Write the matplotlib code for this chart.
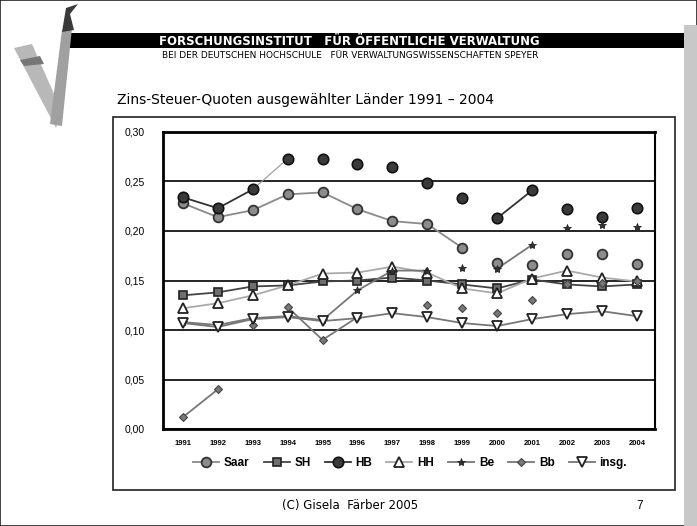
import matplotlib.pyplot as plt
import matplotlib.patches as mpatches
import numpy as np

years = ['1991', '1992', '1993', '1994', '1995', '1996', '1997',
         '1998', '1999', '2000', '2001', '2002', '2003', '2004']

saar = [0.228, 0.214, 0.221, 0.237, 0.239, 0.222, 0.210, 0.207, 0.183, 0.168, 0.166, 0.177, 0.177, 0.167]
sh   = [0.135, 0.138, 0.144, 0.145, 0.149, 0.150, 0.153, 0.150, 0.146, 0.142, 0.151, 0.146, 0.144, 0.146]
hb   = [0.234, 0.223, 0.242, 0.273, 0.273, 0.268, 0.265, 0.248, 0.233, 0.213, 0.241, 0.222, 0.214, 0.223]
hh   = [0.122, 0.127, 0.135, 0.145, 0.157, 0.158, 0.164, 0.158, 0.142, 0.137, 0.152, 0.160, 0.153, 0.149]
be   = [0.108, 0.105, 0.112, 0.114, 0.110, 0.140, 0.160, 0.160, 0.163, 0.162, 0.186, 0.203, 0.206, 0.204]
bb   = [0.012, 0.040, 0.105, 0.123, 0.090, 0.113, 0.119, 0.125, 0.122, 0.117, 0.130, 0.146, 0.147, 0.150]
insg = [0.107, 0.103, 0.111, 0.113, 0.109, 0.112, 0.117, 0.113, 0.107, 0.104, 0.111, 0.116, 0.119, 0.114]

# which runs of points are joined by a line in the scan (start, end, thin?)
links = {
    'Saar': [(0, 8, False)],
    'SH': [(0, 13, False)],
    'HB': [(0, 2, False), (2, 3, True), (9, 10, False)],
    'HH': [(0, 13, False)],
    'Be': [(0, 7, False), (9, 10, False)],
    'Bb': [(0, 1, False), (3, 5, False)],
    'insg.': [(0, 13, False)],
}

W, H = 697, 526
fig = plt.figure(figsize=(W / 100, H / 100), dpi=100)
fig.patch.set_facecolor('white')

def fx(px):
    return px / W

def fy(py):
    return 1 - py / H

# slide decoration
fig.patches.append(mpatches.Rectangle((0, 0), 1, 1, transform=fig.transFigure,
                                      fill=False, ec='#222222', lw=1.2))
fig.patches.append(mpatches.Rectangle((fx(684), 0), fx(13), fy(25), transform=fig.transFigure,
                                      fc='#c8c8c8', ec='none'))
fig.patches.append(mpatches.Rectangle((fx(68), fy(48)), fx(616), fy(33) - fy(48),
                                      transform=fig.transFigure, fc='black', ec='none'))
# logo
for poly, col in [([(14, 48), (32, 44), (62, 112), (56, 128)], '#b8b8b8'),
                  ([(50, 124), (62, 30), (72, 28), (62, 126)], '#a0a0a0'),
                  ([(62, 32), (66, 8), (78, 4), (70, 14), (74, 30)], '#3a3a3a'),
                  ([(20, 60), (40, 56), (44, 64), (24, 66)], '#777777')]:
    fig.patches.append(mpatches.Polygon([(fx(a), fy(b)) for a, b in poly],
                                        closed=True, transform=fig.transFigure,
                                        fc=col, ec='none'))

fig.text(fx(349), fy(41), 'FORSCHUNGSINSTITUT   FÜR ÖFFENTLICHE VERWALTUNG',
         color='white', fontsize=9.4, fontweight='bold', ha='center', va='center',
         family='DejaVu Sans', fontstretch='condensed')
fig.text(fx(350), fy(56), 'BEI DER DEUTSCHEN HOCHSCHULE   FÜR VERWALTUNGSWISSENSCHAFTEN SPEYER',
         color='black', fontsize=6.5, ha='center', va='center', family='Liberation Sans Narrow')
fig.text(fx(117), fy(100), 'Zins-Steuer-Quoten ausgewählter Länder 1991 – 2004',
         fontsize=10, ha='left', va='center', family='DejaVu Sans')
fig.text(fx(350), fy(506), '(C) Gisela  Färber 2005', fontsize=8.5, ha='center', va='center',
         family='Liberation Sans Narrow')
fig.text(fx(640), fy(506), '7', fontsize=8.5, ha='center', va='center', family='Liberation Sans')

fig.patches.append(mpatches.Rectangle((fx(113), fy(490)), fx(562), fy(117) - fy(490),
                                      transform=fig.transFigure, fill=False, ec='#333333', lw=1.3))

ax = fig.add_axes([fx(163), fy(429), fx(655 - 163), fy(132) - fy(429)])
x = np.arange(len(years))

styles = [
    ('Saar', saar, dict(marker='o', ms=7, mfc='#8c8c8c', mec='#333333', mew=1.3), '#8a8a8a'),
    ('SH', sh, dict(marker='s', ms=6, mfc='#6e6e6e', mec='#222222', mew=1.2), '#444444'),
    ('HB', hb, dict(marker='o', ms=7.5, mfc='#3a3a3a', mec='#111111', mew=1.2), '#333333'),
    ('HH', hh, dict(marker='^', ms=6.5, mfc='white', mec='#222222', mew=1.3), '#aaaaaa'),
    ('Be', be, dict(marker='*', ms=6, mfc='#333333', mec='#222222', mew=0.6), '#777777'),
    ('Bb', bb, dict(marker='D', ms=4.5, mfc='#777777', mec='#444444', mew=0.8), '#777777'),
    ('insg.', insg, dict(marker='v', ms=6.5, mfc='white', mec='#222222', mew=1.3), '#777777'),
]

handles = []
for name, vals, mk, lc in styles:
    vals = np.array(vals)
    for a, b, thin in links[name]:
        if thin:
            ax.plot(x[a:b + 1], vals[a:b + 1], color='#999999', lw=0.8, zorder=3)
        else:
            ax.plot(x[a:b + 1], vals[a:b + 1], color=lc, lw=1.3, zorder=3)
    ax.plot(x, vals, ls='none', zorder=4, **mk)
    h, = ax.plot([], [], color=lc, lw=1.3, **mk)
    handles.append(h)

ax.set_xlim(-0.57, 13.52)
ax.set_ylim(0, 0.30)
ax.set_yticks(np.arange(0, 0.301, 0.05))
ax.set_yticklabels(['0,00', '0,05', '0,10', '0,15', '0,20', '0,25', '0,30'],
                   fontsize=7.5, family='Liberation Sans')
ax.set_xticks(x)
ax.set_xticklabels(years, fontsize=5.5, fontweight='bold', family='Liberation Sans')
ax.tick_params(axis='both', length=0)
ax.tick_params(axis='y', pad=13)
ax.tick_params(axis='x', pad=8)
ax.yaxis.grid(True, color='black', lw=1.2)
ax.set_axisbelow(True)
for s in ['left', 'bottom', 'top']:
    ax.spines[s].set_linewidth(2)
ax.spines['right'].set_linewidth(1.5)

fig.legend(handles, [s[0] for s in styles], loc='center', ncol=7,
           bbox_to_anchor=(fx(410), fy(463)), frameon=False, handlelength=2.2,
           columnspacing=1.2, handletextpad=0.4,
           prop={'family': 'Liberation Sans', 'weight': 'bold', 'size': 8.5})

fig.savefig('out.png', dpi=100)
